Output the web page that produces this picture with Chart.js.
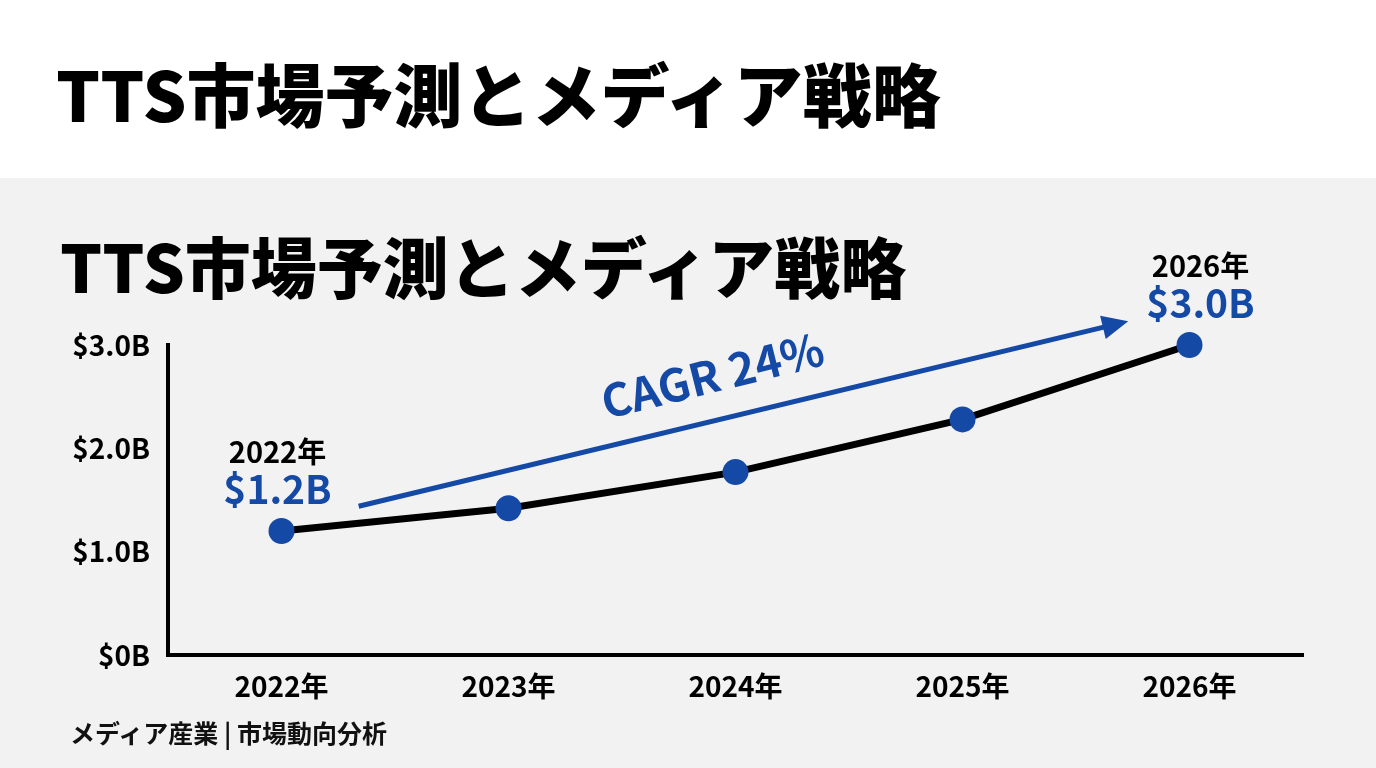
<!DOCTYPE html>
<html lang="ja">
<head>
<meta charset="utf-8">
<script src="https://cdn.jsdelivr.net/npm/chart.js@4/dist/chart.umd.min.js"></script>
<style>
  html, body { margin:0; padding:0; width:1376px; height:768px; overflow:hidden; background:#ffffff; font-family:"Noto Sans CJK JP","Noto Sans",sans-serif; }
  #panel { position:absolute; left:0; top:178px; width:1376px; height:590px; background:#f2f2f2; }
  .title { position:absolute; font-weight:900; color:#000; white-space:nowrap; }
  #t1 { left:56px; top:47px; font-size:69px; line-height:90px; }
  #t2 { left:60px; top:221px; font-size:66px; line-height:86px; }
  #footer { position:absolute; left:70px; top:714px; font-size:25px; font-weight:700; color:#111; white-space:nowrap; }
  #wrap { position:absolute; left:0; top:0; width:1376px; height:768px; }
</style>
</head>
<body>
<div id="panel"></div>
<div class="title" id="t1">TTS市場予測とメディア戦略</div>
<div class="title" id="t2">TTS市場予測とメディア戦略</div>
<div id="wrap"><canvas id="c" width="1376" height="768"></canvas></div>
<div id="footer">メディア産業 | 市場動向分析</div>
<script>
const categories = ["2022年", "2023年", "2024年", "2025年", "2026年"];
const marketValues = [1.2, 1.42, 1.77, 2.28, 3.0];
const yTickValues = [0, 1, 2, 3];
const yTickLabels = ["$0B", "$1.0B", "$2.0B", "$3.0B"];
const calloutIndices = [0, 4];
const calloutValueLabels = ["$1.2B", "$3.0B"];
const cagrLabel = "CAGR 24%";
const cagrArrowFrom = [0.34, 1.44];
const cagrArrowTo = [3.73, 3.23];

const BLUE = "#1449a6";
const FONT = "'Noto Sans CJK JP','Noto Sans',sans-serif";

const annotations = {
  id: "annotations",
  afterDatasetsDraw(chart) {
    const ctx = chart.ctx;
    const xs = chart.scales.x, ys = chart.scales.y;
    const px = (i) => xs.getPixelForValue(0) + i * (xs.getPixelForValue(1) - xs.getPixelForValue(0));
    ctx.save();
    calloutIndices.forEach((idx, k) => {
      const x = xs.getPixelForValue(idx) + (idx === 0 ? -4 : 11);
      const y = ys.getPixelForValue(marketValues[idx]);
      ctx.textAlign = "center";
      ctx.textBaseline = "middle";
      ctx.fillStyle = "#000";
      ctx.font = "700 29px " + FONT;
      ctx.fillText(categories[idx], x, y - 79);
      ctx.fillStyle = BLUE;
      ctx.font = "700 39px " + FONT;
      ctx.fillText(calloutValueLabels[k], x, y - 42);
    });
    const x1 = px(cagrArrowFrom[0]), y1 = ys.getPixelForValue(cagrArrowFrom[1]);
    const x2 = px(cagrArrowTo[0]), y2 = ys.getPixelForValue(cagrArrowTo[1]);
    const ang = Math.atan2(y2 - y1, x2 - x1);
    const head = 26;
    ctx.strokeStyle = BLUE;
    ctx.lineWidth = 5;
    ctx.beginPath();
    ctx.moveTo(x1, y1);
    ctx.lineTo(x2 - Math.cos(ang) * head * 0.8, y2 - Math.sin(ang) * head * 0.8);
    ctx.stroke();
    ctx.fillStyle = BLUE;
    ctx.beginPath();
    ctx.moveTo(x2, y2);
    ctx.lineTo(x2 - head * Math.cos(ang) + 12 * Math.sin(ang), y2 - head * Math.sin(ang) - 12 * Math.cos(ang));
    ctx.lineTo(x2 - head * Math.cos(ang) - 12 * Math.sin(ang), y2 - head * Math.sin(ang) + 12 * Math.cos(ang));
    ctx.closePath();
    ctx.fill();
    const tx = x1 + (x2 - x1) * 0.47, ty = y1 + (y2 - y1) * 0.47;
    ctx.translate(tx - 8, ty - 44);
    ctx.rotate(-14 * Math.PI / 180);
    ctx.font = "700 45px " + FONT;
    ctx.textAlign = "center";
    ctx.textBaseline = "middle";
    ctx.fillText(cagrLabel, 0, 0);
    ctx.restore();
  }
};

new Chart(document.getElementById("c"), {
  type: "line",
  data: {
    labels: categories,
    datasets: [{
      data: marketValues,
      borderColor: "#000",
      borderWidth: 7,
      tension: 0,
      clip: false,
      pointRadius: 13,
      pointHoverRadius: 13,
      pointBackgroundColor: BLUE,
      pointBorderColor: BLUE,
      pointBorderWidth: 0,
      fill: false
    }]
  },
  options: {
    responsive: false,
    animation: false,
    events: [],
    layout: { padding: { left: 0, top: 345, right: 73, bottom: 63 } },
    plugins: { legend: { display: false }, tooltip: { enabled: false } },
    scales: {
      x: {
        type: "category",
        offset: true,
        grid: { display: false },
        border: { display: true, color: "#000", width: 4 },
        ticks: { color: "#000", padding: 7, font: { family: FONT, size: 28, weight: "700" } },
        afterFit: (s) => { s.height = 50; }
      },
      y: {
        min: 0,
        max: 3,
        grid: { display: false },
        border: { display: true, color: "#000", width: 4 },
        afterBuildTicks: (s) => { s.ticks = yTickValues.map(v => ({ value: v })); },
        ticks: {
          color: "#000",
          padding: 10,
          font: { family: FONT, size: 28, weight: "700" },
          callback: (v) => yTickLabels[yTickValues.indexOf(v)]
        },
        afterFit: (s) => { s.width = 168; }
      }
    }
  },
  plugins: [annotations]
});
</script>
</body>
</html>
